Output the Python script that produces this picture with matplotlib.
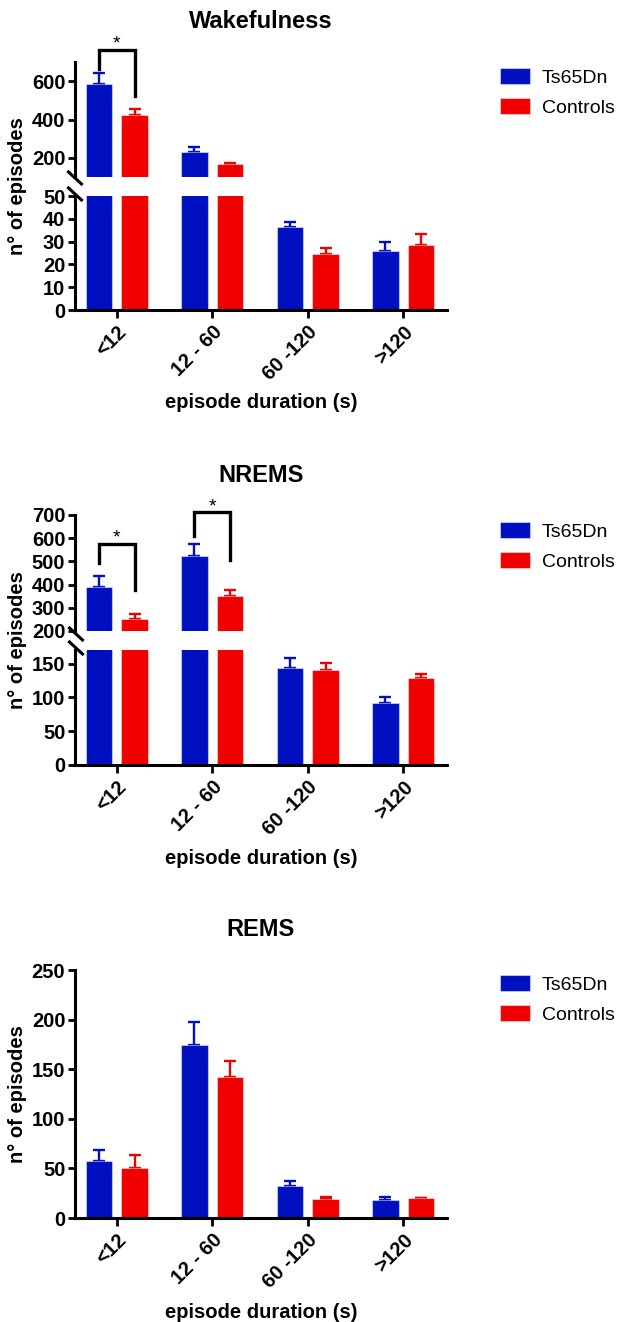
import matplotlib.pyplot as plt
from matplotlib.lines import Line2D
import numpy as np

plt.rcParams['font.family'] = ['Liberation Sans', 'DejaVu Sans']
plt.rcParams['font.weight'] = 'bold'

categories = ['<12', '12 - 60', '60 -120', '>120']
groups = ['Ts65Dn', 'Controls']

# Wakefulness
wake_ts = [585, 230, 36.5, 26]
wake_ts_err = [57, 24, 2.3, 4]
wake_ctrl = [421, 168, 24.4, 28.5]
wake_ctrl_err = [32, 7, 3, 5]

# NREMS
nrems_ts = [389, 524, 144, 91]
nrems_ts_err = [48, 51, 14, 9]
nrems_ctrl = [252, 350, 140, 128]
nrems_ctrl_err = [22, 26, 11, 7]

# REMS
rems_ts = [57, 174, 32.5, 18.4]
rems_ts_err = [12, 24, 4.5, 2.6]
rems_ctrl = [50.4, 142, 19, 20]
rems_ctrl_err = [13.5, 16, 2, 0.5]

# significance brackets: (category, top, left leg end, right leg end)
wake_sig = [(0, 765, 663, 521)]
nrems_sig = [(0, 575, 492, 375), (1, 711, 609, 507)]

W, H = 622, 1322
BLUE = '#0010c0'
RED = '#f00000'
OFF = 0.186
BW = 0.28

fig = plt.figure(figsize=(W / 100, H / 100), dpi=100)


def fx(px):
    return px / W


def fy(py):
    return 1 - py / H


def make_ax(top, bottom):
    return fig.add_axes([fx(75), fy(bottom), (447 - 75) / W, (bottom - top) / H])


def style(ax, show_x):
    ax.spines['right'].set_visible(False)
    ax.spines['top'].set_visible(False)
    ax.spines['left'].set_linewidth(2.2)
    ax.spines['bottom'].set_linewidth(2.2)
    ax.tick_params(axis='y', length=5, width=2, pad=2, labelsize=14.5)
    ax.set_xlim(-0.437, 3.458)
    ax.set_xticks(range(len(categories)))
    if show_x:
        ax.tick_params(axis='x', length=6, width=2, pad=3)
        ax.set_xticklabels(categories, rotation=45, ha='right',
                           rotation_mode='anchor', fontsize=14.5)
    else:
        ax.spines['bottom'].set_visible(False)
        ax.tick_params(axis='x', length=0, labelbottom=False)


def draw(ax, ts, ts_err, ctrl, ctrl_err):
    x = np.arange(len(categories))
    for off, vals, errs, col, lab in [(-OFF, ts, ts_err, BLUE, groups[0]),
                                      (OFF, ctrl, ctrl_err, RED, groups[1])]:
        ax.bar(x + off, vals, width=BW, color=col, label=lab, zorder=2,
               edgecolor=(1, 1, 1, 0.45), linewidth=0.8)
        ax.errorbar(x + off, vals, yerr=[np.zeros(len(vals)), errs], fmt='none',
                    ecolor=col, elinewidth=1.7, capsize=4.5, capthick=1.7, zorder=1)


def bracket(ax, i, top, left_end, right_end):
    x0, x1 = i - OFF, i + OFF
    ax.plot([x0, x0, x1, x1], [left_end, top, top, right_end], color='k',
            lw=2.4, clip_on=False, solid_joinstyle='miter')
    ax.annotate('*', xy=(i, top), xytext=(0, 1), textcoords='offset points',
                ha='center', va='baseline', fontsize=14, fontweight='normal',
                annotation_clip=False)


def break_mark(px, py):
    fig.add_artist(Line2D([fx(px - 6.5), fx(px + 6.5)], [fy(py - 6), fy(py + 6)],
                          color='k', lw=2.2))


def labels(title, ty, xly, yly, leg_top, ax):
    fig.text(fx(261), fy(ty), title, ha='center', va='center', fontsize=17)
    fig.text(fx(261), fy(xly), 'episode duration (s)', ha='center', va='center', fontsize=14.5)
    fig.text(fx(18), fy(yly), 'n° of episodes', rotation=90, ha='center', va='center', fontsize=14.5)
    h, l = ax.get_legend_handles_labels()
    fig.legend(h, l, loc='upper left', bbox_to_anchor=(fx(500), fy(leg_top)),
               frameon=False, borderpad=0, borderaxespad=0, handlelength=1.55,
               handleheight=0.88, handletextpad=0.6, labelspacing=0.6,
               prop={'size': 14, 'weight': 'normal'})


# ---- Wakefulness (broken axis) ----
a_up = make_ax(62, 177)
a_lo = make_ax(196, 310)
for a in (a_up, a_lo):
    draw(a, wake_ts, wake_ts_err, wake_ctrl, wake_ctrl_err)
a_up.set_ylim(100, 700)
a_up.set_yticks([200, 400, 600])
a_lo.set_ylim(0, 50)
a_lo.set_yticks(range(0, 51, 10))
style(a_up, False)
style(a_lo, True)
for s in wake_sig:
    bracket(a_up, *s)
break_mark(75, 178)
break_mark(75, 194)
labels('Wakefulness', 22, 403, 186, 68, a_lo)

# ---- NREMS (broken axis) ----
b_up = make_ax(515, 631)
b_lo = make_ax(650, 765)
for a in (b_up, b_lo):
    draw(a, nrems_ts, nrems_ts_err, nrems_ctrl, nrems_ctrl_err)
b_up.set_ylim(200, 700)
b_up.set_yticks(range(200, 701, 100))
b_lo.set_ylim(0, 170)
b_lo.set_yticks([0, 50, 100, 150])
style(b_up, False)
style(b_lo, True)
for s in nrems_sig:
    bracket(b_up, *s)
break_mark(76, 634)
break_mark(76, 648)
labels('NREMS', 475, 858, 640, 522, b_lo)

# ---- REMS ----
c = make_ax(970, 1218)
draw(c, rems_ts, rems_ts_err, rems_ctrl, rems_ctrl_err)
c.set_ylim(0, 250)
c.set_yticks(range(0, 251, 50))
style(c, True)
labels('REMS', 930, 1312, 1094, 975, c)

fig.savefig('out.png', dpi=100)
